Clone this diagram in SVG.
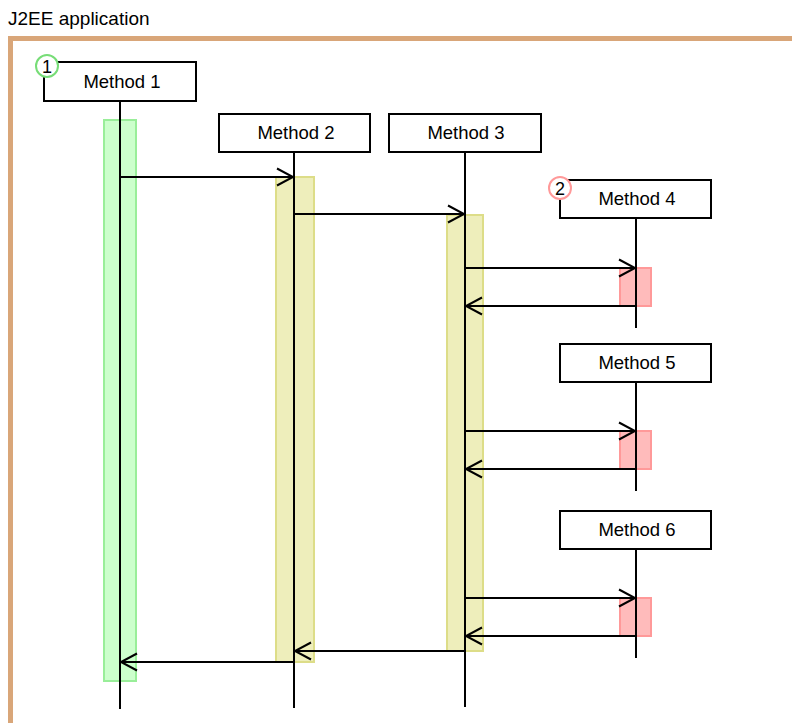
<svg xmlns="http://www.w3.org/2000/svg" width="792" height="723" viewBox="0 0 792 723">
<defs>
<style>
.box{fill:#fff;stroke:#000;stroke-width:2}
.lbl{font-family:"Liberation Sans",Arial,sans-serif;font-size:18.5px;fill:#000;text-anchor:middle}
.num{font-family:"Liberation Sans",Arial,sans-serif;font-size:18px;fill:#000;text-anchor:middle}
.life{stroke:#000;stroke-width:2;fill:none}
.msg{stroke:#000;stroke-width:2;fill:none}
.head{stroke:#000;stroke-width:2;fill:none}
.actg{fill:#CCFFCC;stroke:#99EE99;stroke-width:2}
.acto{fill:#EEEEBB;stroke:#DDDD88;stroke-width:2}
.actr{fill:#FFBBBB;stroke:#FF9999;stroke-width:2}
</style>
</defs>
<rect width="792" height="723" fill="#fff"/>
<text x="8" y="25" font-family="Liberation Sans, Arial, sans-serif" font-size="19" fill="#000">J2EE application</text>
<path d="M10.5,730 V38.5 H800" fill="none" stroke="#D9A679" stroke-width="5"/>

<g id="activations">
<rect class="actg" x="104" y="120" width="32" height="561"/>
<rect class="acto" x="276" y="177" width="38" height="485"/>
<rect class="acto" x="447" y="215" width="36" height="436"/>
<rect class="actr" x="620" y="268" width="31" height="38"/>
<rect class="actr" x="620" y="431" width="31" height="38"/>
<rect class="actr" x="620" y="598" width="31" height="38"/>
</g>

<g id="lifelines">
<line class="life" x1="120" y1="101" x2="120" y2="709"/>
<line class="life" x1="294" y1="152" x2="294" y2="708"/>
<line class="life" x1="465" y1="152" x2="465" y2="707"/>
<line class="life" x1="636" y1="218" x2="636" y2="328"/>
<line class="life" x1="636" y1="382" x2="636" y2="491"/>
<line class="life" x1="636" y1="549" x2="636" y2="658"/>
</g>

<g id="method1">
<rect class="box" x="44" y="62" width="152" height="39"/>
<text class="lbl" x="122" y="88">Method 1</text>
<circle cx="47" cy="66" r="11" fill="#fff" stroke="#77DD77" stroke-width="2"/>
<text class="num" x="47" y="72.5">1</text>
</g>
<g id="method2">
<rect class="box" x="219" y="114" width="151" height="38"/>
<text class="lbl" x="296" y="139">Method 2</text>
</g>
<g id="method3">
<rect class="box" x="389" y="114" width="152" height="38"/>
<text class="lbl" x="466" y="139">Method 3</text>
</g>
<g id="method4">
<rect class="box" x="560" y="180" width="151" height="38"/>
<text class="lbl" x="637" y="205">Method 4</text>
<circle cx="560" cy="188" r="11" fill="#fff" stroke="#FF9999" stroke-width="2"/>
<text class="num" x="560" y="194.5">2</text>
</g>
<g id="method5">
<rect class="box" x="560" y="344" width="151" height="38"/>
<text class="lbl" x="637" y="369">Method 5</text>
</g>
<g id="method6">
<rect class="box" x="560" y="511" width="151" height="38"/>
<text class="lbl" x="637" y="536">Method 6</text>
</g>

<g id="connectors">
<line class="msg" x1="120" y1="177" x2="293" y2="177"/>
<path class="head" d="M277,168.5 L293,177 L277,185.5"/>
<line class="msg" x1="294" y1="214" x2="464" y2="214"/>
<path class="head" d="M448,205.5 L464,214 L448,222.5"/>

<line class="msg" x1="465" y1="268" x2="635" y2="268"/>
<path class="head" d="M619,259.5 L635,268 L619,276.5"/>
<line class="msg" x1="636" y1="306" x2="466" y2="306"/>
<path class="head" d="M482,297.5 L466,306 L482,314.5"/>

<line class="msg" x1="465" y1="431" x2="635" y2="431"/>
<path class="head" d="M619,422.5 L635,431 L619,439.5"/>
<line class="msg" x1="636" y1="469" x2="466" y2="469"/>
<path class="head" d="M482,460.5 L466,469 L482,477.5"/>

<line class="msg" x1="465" y1="598" x2="635" y2="598"/>
<path class="head" d="M619,589.5 L635,598 L619,606.5"/>
<line class="msg" x1="636" y1="636" x2="466" y2="636"/>
<path class="head" d="M482,627.5 L466,636 L482,644.5"/>

<line class="msg" x1="465" y1="651" x2="295" y2="651"/>
<path class="head" d="M311,642.5 L295,651 L311,659.5"/>
<line class="msg" x1="294" y1="662" x2="121" y2="662"/>
<path class="head" d="M137,653.5 L121,662 L137,670.5"/>
</g>
</svg>
